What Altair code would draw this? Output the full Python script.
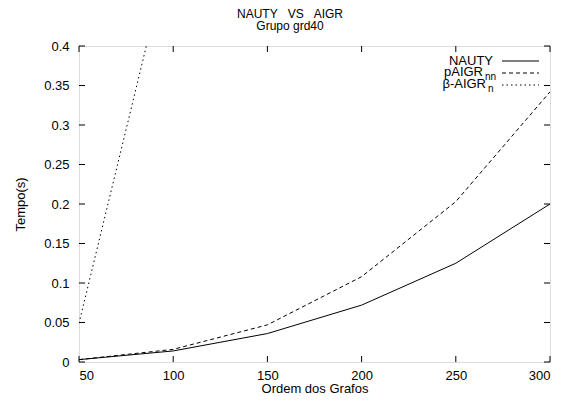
import altair as alt
import pandas as pd

# ---- data ----
ordem = [50, 100, 150, 200, 250, 300]
nauty = [0.003, 0.014, 0.036, 0.072, 0.125, 0.200]
paigr = [0.003, 0.016, 0.047, 0.108, 0.203, 0.342]
beta_ordem = [50, 100]
beta = [0.049, 0.54]
x_ticks = [50, 100, 150, 200, 250, 300]
y_ticks = [0, 0.05, 0.1, 0.15, 0.2, 0.25, 0.3, 0.35, 0.4]

title_main = "NAUTY\u00a0\u00a0\u00a0VS\u00a0\u00a0\u00a0AIGR"
title_sub = "Grupo grd40"
x_title = "Ordem dos Grafos"
y_title = "Tempo(s)"

W, H = 471, 316
FONT = "Liberation Sans"

xs = alt.Scale(domain=[50, 300], nice=False, zero=False)
ys = alt.Scale(domain=[0, 0.4], nice=False, zero=False)

df_n = pd.DataFrame({"x": ordem, "y": nauty})
df_p = pd.DataFrame({"x": ordem, "y": paigr})
df_b = pd.DataFrame({"x": beta_ordem, "y": beta})
df_xt = pd.DataFrame({"x": x_ticks})
df_yt = pd.DataFrame({"y": y_ticks})

x_axis = alt.Axis(values=x_ticks, domain=False, ticks=False, grid=False,
                  labelFontSize=13, labelPadding=7, labelColor="black",
                  title=x_title, titleFontSize=13, titleFontWeight="normal",
                  titleColor="black", titleY=26, titleBaseline="middle")
y_axis = alt.Axis(values=y_ticks, domain=False, ticks=False, grid=False,
                  format="~g", labelFontSize=13, labelPadding=10, labelColor="black",
                  title=y_title, titleFontSize=13, titleFontWeight="normal",
                  titleColor="black", titleX=-59, titleY=H / 2, titleBaseline="middle")

X = alt.X("x:Q", scale=xs, axis=x_axis)
Y = alt.Y("y:Q", scale=ys, axis=y_axis)

base_line = alt.Chart(df_n).mark_line(color="black", strokeWidth=1, clip=True).encode(x=X, y=Y)
p_line = alt.Chart(df_p).mark_line(color="black", strokeWidth=1, strokeDash=[4, 3], clip=True).encode(x=X, y=Y)
b_line = alt.Chart(df_b).mark_line(color="black", strokeWidth=1, strokeDash=[1.5, 3], clip=True).encode(x=X, y=Y)

# inward ticks (bottom, top, left, right)
tb = alt.Chart(df_xt).mark_rule(color="black", strokeWidth=1).encode(
    x=X, y=alt.value(H), y2=alt.value(H - 6))
tt = alt.Chart(df_xt).mark_rule(color="black", strokeWidth=1).encode(
    x=X, y=alt.value(0), y2=alt.value(6))
tl = alt.Chart(df_yt).mark_rule(color="black", strokeWidth=1).encode(
    y=Y, x=alt.value(0), x2=alt.value(6))
tr = alt.Chart(df_yt).mark_rule(color="black", strokeWidth=1).encode(
    y=Y, x=alt.value(W), x2=alt.value(W - 6))

# titles
def txt(s, x, y, size=12, align="center", baseline="middle"):
    return alt.Chart(pd.DataFrame({"t": [s]})).mark_text(
        font=FONT, fontSize=size, align=align, baseline=baseline, color="black"
    ).encode(text="t:N", x=alt.value(x), y=alt.value(y))

t1 = txt(title_main, 211, -28, 12, "center", "alphabetic")
t2 = txt(title_sub, 211, -16, 12, "center", "alphabetic")

# legend
leg_names = ["NAUTY", "pAIGR", "β-AIGR"]
leg_subs = ["", "nn", "n"]
lg = []
lg.append(txt(leg_names[0], 414, 15, 13, "right"))
lg.append(txt(leg_names[1], 404, 26, 13, "right"))
lg.append(txt(leg_subs[1], 406, 31, 10, "left"))
lg.append(txt(leg_names[2], 407, 38, 13, "right"))
lg.append(txt(leg_subs[2], 409, 43, 10, "left"))

def sample(y, dash):
    kw = {"color": "black", "strokeWidth": 1}
    if dash:
        kw["strokeDash"] = dash
    return alt.Chart(pd.DataFrame({"k": [0]})).mark_rule(**kw).encode(
        x=alt.value(423), x2=alt.value(460), y=alt.value(y))

lg.append(sample(15, None))
lg.append(sample(27, [4, 3]))
lg.append(sample(39, [1.5, 3]))

chart = alt.layer(base_line, p_line, b_line, tb, tt, tl, tr, t1, t2, *lg).properties(
    width=W, height=H,
    autosize=alt.AutoSizeParams(type="none"),
    padding={"left": 71, "top": 38, "right": 10, "bottom": 33},
).configure_view(stroke="black", strokeWidth=1).configure(font=FONT)

chart.save("out.html", embed_options={"renderer": "svg", "actions": False})
